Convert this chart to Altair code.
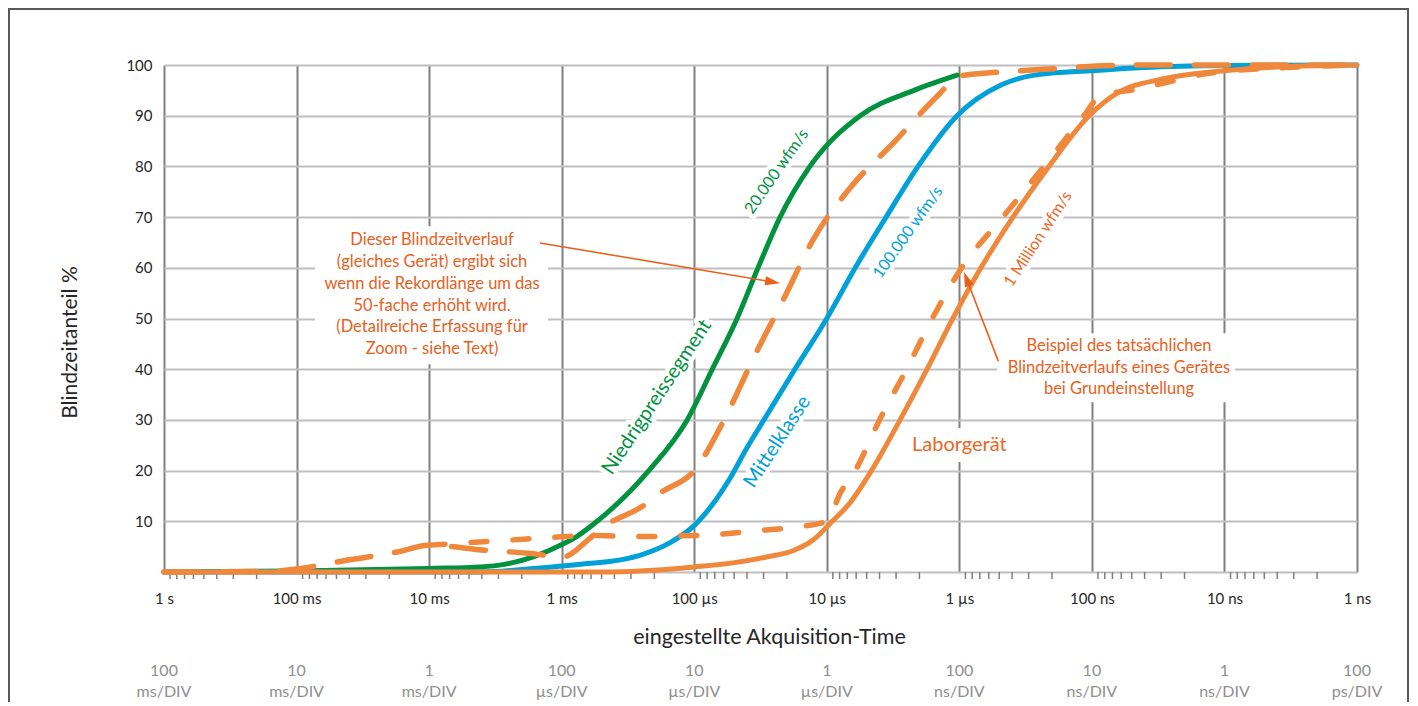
import json
import altair as alt
import pandas as pd

FONT = "Lato"
GREEN = "#00923f"
BLUE = "#00a0d8"
ORANGE = "#f0883c"
ORANGE_TXT = "#ec6625"
ANNOT = "#e8601c"
DARK = "#262626"

# ---- data: acquisition time (seconds) -> blind-time share (%)
green_t = [1.0, 0.1, 0.01, 4.1e-3, 2.7e-3, 1.64e-3, 1.08e-3, 7.7e-4, 5.4e-4, 2.2e-4, 1.13e-4,
           7.3e-5, 4.75e-5, 3.3e-5, 2.25e-5, 1.34e-5, 5.6e-6, 2.2e-6, 1.04e-6]
green_v = [0, 0.2, 0.7, 1, 1.5, 3, 5, 7, 10, 20, 30, 40, 50, 60, 70, 80, 90, 95, 98]

blue_t = [1.0, 4.1e-3, 1.46e-3, 6.9e-4, 3.6e-4, 2.44e-4, 1.52e-4, 9.87e-5, 7.34e-5, 5.37e-5,
          4.0e-5, 2.98e-5, 1.74e-5, 1.0e-5, 6.1e-6, 3.57e-6, 2.05e-6, 1.04e-6, 4.9e-7, 2.7e-7,
          9.6e-8, 4.1e-8, 9.6e-9, 1e-9]
blue_v = [0, 0, 0.8, 1.6, 2.4, 3.5, 5.8, 9.3, 13.2, 18.5, 24.5, 30, 40, 50, 60, 70, 80, 90, 96,
          98, 98.9, 99.5, 99.9, 100]

lab_t = [1.0, 5.1e-4, 2.2e-4, 1.0e-4, 5.1e-5, 2.8e-5, 1.8e-5, 1.27e-5, 9.1e-6, 6.7e-6, 4.6e-6,
         2.8e-6, 1.75e-6, 1.12e-6, 6.87e-7, 3.94e-7, 2.11e-7, 1.05e-7, 6.4e-8, 3.0e-8, 9.6e-9,
         3.4e-9, 1e-9]
lab_v = [0, 0, 0.3, 1, 1.8, 3, 4.2, 6.3, 10, 13.6, 20, 30, 40, 50, 60, 70, 80, 90, 94.5, 97.2,
         98.9, 99.7, 100]

rec50_t = [1.0, 0.16, 0.1, 0.04, 0.017, 0.01, 3.8e-3, 1.8e-3, 9.8e-4, 6.1e-4, 4.9e-4, 2.44e-4,
           1.8e-4, 1.0e-4, 5.7e-5, 3.6e-5, 2.1e-5, 1.27e-5, 6.7e-6, 3.1e-6, 1.45e-6, 1.0e-6,
           3.7e-7, 1.6e-7, 9.3e-8, 3.6e-8, 1e-9]
rec50_v = [0, 0.1, 0.6, 2.4, 4, 5.3, 4.3, 3.7, 3, 6.7, 8.8, 13, 15.6, 20, 31, 42, 54, 65.5, 75.7,
           84.8, 94, 97.8, 98.8, 99.4, 99.8, 100, 100]

basic_t = [0.01, 4.9e-3, 2.45e-3, 1.08e-3, 5.8e-4, 2.56e-4, 1.45e-4, 6.7e-5, 3.6e-5, 1.68e-5, 1.0e-5,
           7.9e-6, 6.1e-6, 4.0e-6, 2.5e-6, 1.6e-6, 9.6e-7, 4.7e-7, 2.3e-7, 1.15e-7, 8.7e-8, 4.65e-8,
           2.7e-8, 1.43e-8, 3.4e-9, 1e-9]
basic_v = [5.3, 5.8, 6.3, 6.9, 7.2, 7.0, 7.1, 7.4, 8.1, 8.9, 10, 15.6, 20, 30, 40, 50, 60, 70, 80,
           90, 93.8, 95.2, 96.6, 98.2, 99.5, 100]

# ---- axis ticks and labels
x_ticks = [1, 1e-1, 1e-2, 1e-3, 1e-4, 1e-5, 1e-6, 1e-7, 1e-8, 1e-9]
x_labels = ["1 s", "100 ms", "10 ms", "1 ms", "100 µs", "10 µs", "1 µs", "100 ns", "10 ns", "1 ns"]
div_num = ["100", "10", "1", "100", "10", "1", "100", "10", "1", "100"]
div_unit = ["ms/DIV", "ms/DIV", "ms/DIV", "µs/DIV", "µs/DIV", "µs/DIV", "ns/DIV", "ns/DIV",
            "ns/DIV", "ps/DIV"]
y_ticks = [0, 10, 20, 30, 40, 50, 60, 70, 80, 90, 100]
minor_ticks = [k * 10.0 ** (-n) for n in range(1, 10) for k in range(2, 10)]

# ---- annotations
rot_text = ["20.000 wfm/s", "100.000 wfm/s", "1 Million wfm/s", "Niedrigpreissegment",
            "Mittelklasse", "Laborgerät"]
rot_t = [2.39e-5, 2.44e-6, 2.55e-7, 1.91e-4, 2.36e-5, 1.0e-6]
rot_v = [79.0, 67.0, 65.7, 34.5, 25.7, 25.0]
rot_angle = [304.7, 305.3, 303.2, 303.6, 303.0, 0]
rot_color = [GREEN, BLUE, ORANGE_TXT, GREEN, BLUE, ORANGE_TXT]
rot_size = [16, 16, 16, 20, 20, 20]

note_text = [
    "Dieser Blindzeitverlauf\n(gleiches Gerät) ergibt sich\nwenn die Rekordlänge um das\n"
    "50-fache erhöht wird.\n(Detailreiche Erfassung für\nZoom - siehe Text)",
    "Beispiel des tatsächlichen\nBlindzeitverlaufs eines Gerätes\nbei Grundeinstellung",
]
note_t = [9.5e-3, 6.25e-8]
note_v = [65.4, 44.6]   # position of the first line

box_t1 = [0.0726, 5.2e-7, 2.57e-6]
box_t2 = [1.27e-3, 8.3e-9, 3.8e-7]
box_v1 = [68.2, 47.1, 28.4]
box_v2 = [41.0, 33.5, 21.7]

arrow_start_t = [1.46e-3, 5.08e-7]
arrow_start_v = [64.9, 41.6]
arrow_head_t = [2.56e-5, 8.81e-7]
arrow_head_v = [57.2, 57.8]
arrow_angle = [99.4, 339.3]

# ---- scales / axes
xscale = alt.Scale(type="log", domain=[1e-9, 1], reverse=True, nice=False)
yscale = alt.Scale(domain=[0, 100], nice=False, zero=True)
label_expr = json.dumps(x_labels, ensure_ascii=False) + "[round(-log(datum.value)/LN10)]"

xaxis = alt.Axis(values=x_ticks, labelExpr=label_expr, grid=True, gridColor="#808080",
                 gridWidth=2, domain=False, ticks=False, tickSize=0, labelPadding=26,
                 labelBaseline="middle", labelFont=FONT, labelFontSize=15, labelColor=DARK,
                 labelFlush=False, labelOverlap=False, labelBound=False,
                 titleFont=FONT, titleFontSize=21.5, titleColor=DARK, titleFontWeight="normal",
                 titleX=605, titleY=65, titleAlign="center", titleBaseline="middle")
yaxis = alt.Axis(values=y_ticks, labelExpr="datum.value == 0 ? '' : datum.label", grid=True,
                 gridColor="#bfbfbf", gridWidth=2, domain=False, ticks=False, tickSize=0,
                 labelPadding=12, labelFont=FONT, labelFontSize=15, labelColor=DARK,
                 titleFont=FONT, titleFontSize=21, titleColor=DARK, titleFontWeight="normal",
                 titleX=-94, titleY=277, titleAngle=270, titleAlign="center",
                 titleBaseline="middle")
XT = "eingestellte Akquisition-Time"
YT = "Blindzeitanteil %"


def X(field):
    return alt.X(field, type="quantitative", scale=xscale, axis=xaxis, title=XT)


def Y(field):
    return alt.Y(field, type="quantitative", scale=yscale, axis=yaxis, title=YT)


def series(ts, vs):
    return pd.DataFrame({"t": ts, "v": vs, "i": list(range(len(ts)))})


# ---- layers
border = alt.Chart(pd.DataFrame({"a": [0]})).mark_rect(
    fillOpacity=0, stroke="#595959", strokeWidth=2
).encode(x=alt.value(-155), x2=alt.value(1244), y=alt.value(-56), y2=alt.value(760))

boxes = alt.Chart(pd.DataFrame({"t1": box_t1, "t2": box_t2, "v1": box_v1, "v2": box_v2})).mark_rect(
    color="white"
).encode(x=X("t1"), x2="t2", y=Y("v1"), y2="v2")

rot_df = pd.DataFrame({"txt": rot_text, "t": rot_t, "v": rot_v, "ang": rot_angle,
                       "col": rot_color, "sz": rot_size})
halo = alt.Chart(rot_df).mark_text(
    font=FONT, align="center", baseline="middle", fill="white", stroke="white",
    strokeWidth=9, strokeJoin="round"
).encode(x=X("t"), y=Y("v"), text="txt:N", angle=alt.Angle("ang:Q", scale=None),
         size=alt.Size("sz:Q", scale=None))

minor = alt.Chart(pd.DataFrame({"t": minor_ticks})).mark_rule(
    color="#808080", strokeWidth=1.5
).encode(x=X("t"), y=alt.value(507), y2=alt.value(514))


def curve(ts, vs, color, dash=None, width=5):
    kw = dict(color=color, strokeWidth=width, interpolate="monotone", strokeCap="round",
              strokeJoin="round")
    if dash:
        kw["strokeDash"] = dash
    return alt.Chart(series(ts, vs)).mark_line(**kw).encode(
        x=X("t"), y=Y("v"), order="i:Q")


green = curve(green_t, green_v, GREEN)
blue = curve(blue_t, blue_v, BLUE)
lab = curve(lab_t, lab_v, ORANGE)
rec50 = curve(rec50_t, rec50_v, ORANGE, dash=[34, 24], width=5.5)
basic = curve(basic_t, basic_v, ORANGE, dash=[16, 26], width=5.5)

rot = alt.Chart(rot_df).mark_text(font=FONT, align="center", baseline="middle").encode(
    x=X("t"), y=Y("v"), text="txt:N", angle=alt.Angle("ang:Q", scale=None),
    size=alt.Size("sz:Q", scale=None), color=alt.Color("col:N", scale=None))

notes = alt.Chart(pd.DataFrame({"txt": note_text, "t": note_t, "v": note_v})).mark_text(
    font=FONT, fontSize=16.5, color=ANNOT, align="center", baseline="middle", lineBreak="\n",
    lineHeight=21.7
).encode(x=X("t"), y=Y("v"), text="txt:N")

arrow_rows = []
for k in range(len(arrow_start_t)):
    arrow_rows.append({"a": k, "i": 0, "t": arrow_start_t[k], "v": arrow_start_v[k]})
    arrow_rows.append({"a": k, "i": 1, "t": arrow_head_t[k], "v": arrow_head_v[k]})
arrow_lines = alt.Chart(pd.DataFrame(arrow_rows)).mark_line(
    color=ANNOT, strokeWidth=1.6
).encode(x=X("t"), y=Y("v"), detail="a:N", order="i:Q")
arrow_heads = alt.Chart(pd.DataFrame({"t": arrow_head_t, "v": arrow_head_v,
                                      "ang": arrow_angle})).mark_point(
    shape="M0,-1L0.62,1L-0.62,1Z", filled=True, color=ANNOT, size=225, opacity=1
).encode(x=X("t"), y=Y("v"), angle=alt.Angle("ang:Q", scale=None))

div_df = pd.DataFrame({"t": x_ticks, "n": div_num, "u": div_unit})
div_num_layer = alt.Chart(div_df).mark_text(
    font=FONT, fontSize=16, color="#8f8f8f", align="center", baseline="middle"
).encode(x=X("t"), y=alt.value(606), text="n:N")
div_unit_layer = alt.Chart(div_df).mark_text(
    font=FONT, fontSize=16, color="#8f8f8f", align="center", baseline="middle"
).encode(x=X("t"), y=alt.value(627), text="u:N")

chart = alt.layer(
    border, boxes, halo, minor, green, blue, lab, rec50, basic, rot, notes,
    arrow_lines, arrow_heads, div_num_layer, div_unit_layer
).properties(
    width=1193, height=507,
    padding={"left": 156, "top": 57, "right": 52, "bottom": 130},
    autosize=alt.AutoSizeParams(type="none"),
    background="white",
).configure_view(strokeOpacity=0)

chart.save("out.html", embed_options={"renderer": "svg", "actions": False})
